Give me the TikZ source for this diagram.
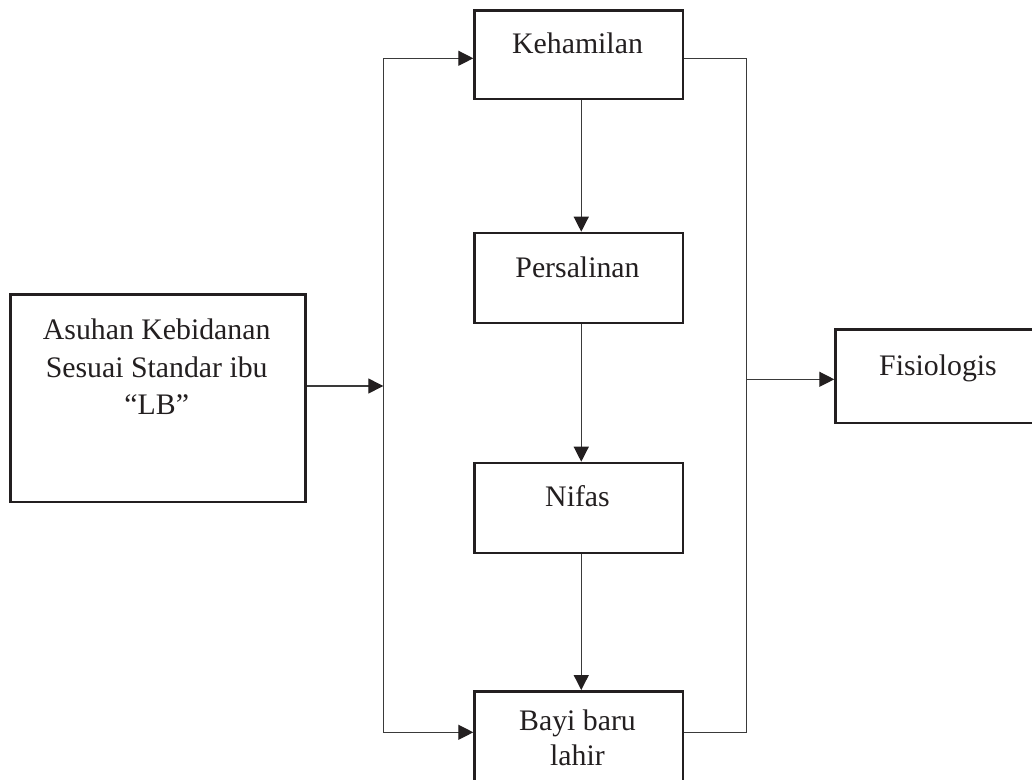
\documentclass[tikz,border=0pt]{standalone}
\usepackage{fontspec}
\setmainfont{Liberation Serif}
\usetikzlibrary{arrows.meta}
\definecolor{ink}{HTML}{231F20}
\definecolor{wire}{HTML}{3A3A3A}
\begin{document}
\begin{tikzpicture}[x=1pt,y=-1pt,
  boxnode/.style={draw=ink, line width=2.5pt, rectangle, inner sep=0pt, anchor=north west},
  txt/.style={anchor=base, inner sep=0pt, text=ink, font=\fontsize{29.8pt}{35pt}\selectfont},
  wireline/.style={draw=wire, line width=1.3pt},
  arr/.style={wireline, -{Triangle[length=15pt,width=15pt,color=ink]}}]
\useasboundingbox (0,0) rectangle (1032,779);
% boxes
\node[boxnode, minimum width=294.7pt, minimum height=207.4pt] (asuhan) at (9.3,293.3) {};
\node[boxnode, minimum width=208.4pt, minimum height=88.4pt] (keh) at (473.3,9.3) {};
\node[boxnode, minimum width=208.4pt, minimum height=90pt] (pers) at (473.3,231.7) {};
\node[boxnode, minimum width=208.4pt, minimum height=90pt] (nifas) at (473.3,461.7) {};
\node[boxnode, minimum width=208.4pt, minimum height=120pt] (bayi) at (473.3,690) {};
\node[boxnode, minimum width=208pt, minimum height=93.4pt] (fis) at (834.3,328.3) {};
% texts
\node[txt] (ta1) at (156.7,339.5) {Asuhan Kebidanan};
\node[txt] (ta2) at (156.7,377) {Sesuai Standar ibu};
\node[txt] (ta3) at (156.7,414.5) {“LB”};
\node[txt] (tk) at (577.5,53) {Kehamilan};
\node[txt] (tp) at (577.5,277) {Persalinan};
\node[txt] (tn) at (577.5,506.7) {Nifas};
\node[txt] (tb1) at (577.5,730) {Bayi baru};
\node[txt] (tb2) at (577.5,765) {lahir};
\node[txt] (tf) at (938,375) {Fisiologis};
% junction coordinates
\coordinate (Ltop) at (383.3,58.3);
\coordinate (Lmid) at (383.3,386);
\coordinate (Lbot) at (383.3,732.3);
\coordinate (Rtop) at (746.5,58.3);
\coordinate (Rmid) at (746.5,379.3);
\coordinate (Rbot) at (746.5,732.3);
% connectors
\draw[wireline] (Ltop) -- (Lbot);
\draw[arr] (Lmid -| asuhan.east) -- (Lmid);
\draw[arr] (Ltop) -- (Ltop -| keh.west);
\draw[arr] (Lbot) -- (Lbot -| bayi.west);
\draw[wireline] (Rtop -| keh.east) -- (Rtop) -- (Rbot) -- (Rbot -| bayi.east);
\draw[arr] (Rmid) -- (Rmid -| fis.west);
\draw[arr] ([xshift=2.5pt]keh.south) -- ([xshift=2.5pt]pers.north);
\draw[arr] ([xshift=2.5pt]pers.south) -- ([xshift=2.5pt]nifas.north);
\draw[arr] ([xshift=2.5pt]nifas.south) -- ([xshift=2.5pt]bayi.north);
\end{tikzpicture}
\end{document}
